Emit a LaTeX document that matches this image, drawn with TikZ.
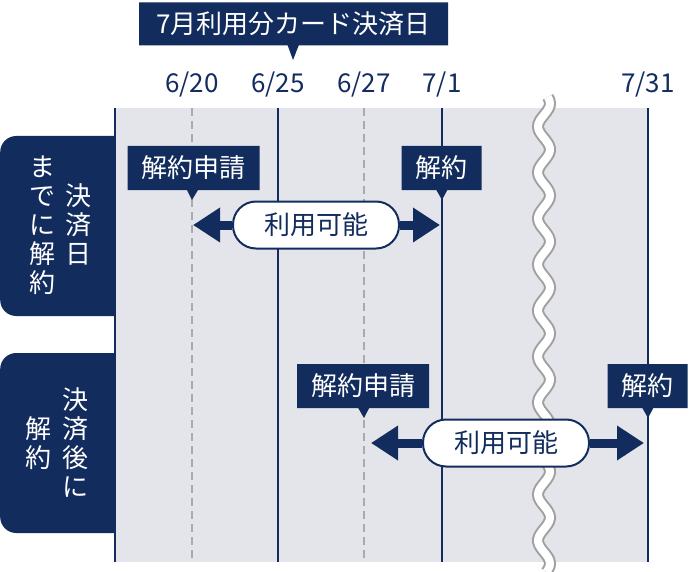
\documentclass[tikz,border=0pt]{standalone}
\usepackage{fontspec}
\newfontfamily\jpfont{Noto Sans CJK JP}
\usetikzlibrary{shapes.callouts, arrows.meta, positioning, calc}
\definecolor{navy}{RGB}{19,44,94}
\definecolor{panel}{RGB}{228,229,235}
\definecolor{dashgray}{RGB}{170,170,170}
\definecolor{wavegray}{RGB}{160,160,160}

\begin{document}
\begin{tikzpicture}[
  x=1pt, y=-1pt,
  font=\jpfont\fontsize{26}{29}\selectfont,
  tab/.style={fill=navy, rounded corners=16pt, minimum width=140pt, minimum height=180pt, anchor=west},
  tabtext/.style={text=white, align=center, inner sep=0pt},
  datelabel/.style={text=navy, anchor=base, inner sep=0pt},
  callbox/.style={rectangle callout, fill=navy, text=white, minimum height=44pt, inner xsep=14pt, callout pointer width=11pt},
  pill/.style={draw=navy, line width=2pt, fill=white, text=navy, rounded corners=23pt, minimum width=166pt, minimum height=47pt},
  daysolid/.style={navy, line width=2.5pt},
  daydash/.style={dashgray, line width=2pt, dash pattern=on 8pt off 5pt},
  bigarrow/.style={navy, line width=9pt, -{Triangle[length=27pt, width=33pt]}}
]
\useasboundingbox (0,0) rectangle (690,572);

\node[tab] (tabA) at (0,226) {};
\node[tab] (tabB) at (0,443) {};
\fill[panel] (115,108) rectangle (648,562);

\foreach \x in {192,364}
  \draw[daydash] (\x,108) -- (\x,562);
\foreach \x in {115,278,442,648}
  \draw[daysolid] (\x,108) -- (\x,562);

\draw[wavegray, line width=12pt] plot[domain=97:572, samples=160, smooth] ({544+6*sin(\x/46*360)}, \x);
\draw[white, line width=8pt] plot[domain=97:572, samples=160, smooth] ({544+6*sin(\x/46*360)}, \x);

\node[datelabel] (d620) at (192,93) {6/20};
\node[datelabel] (d625) at (278,93) {6/25};
\node[datelabel] (d627) at (364,93) {6/27};
\node[datelabel] (d701) at (442,93) {7/1};
\node[datelabel] (d731) at (648,93) {7/31};

\node[callbox, minimum width=309pt, minimum height=43pt, callout absolute pointer={(293,60)}] (title) at (293.5,24) {7月利用分カード決済日};

\node[tabtext] (tabAr) at (78,224) {決\\済\\日};
\node[tabtext] (tabAl) at (42,225) {ま\\で\\に\\解\\約};
\node[tabtext] (tabBr) at (75,443) {決\\済\\後\\に};
\node[tabtext] (tabBl) at (38,443) {解\\約};

\node[callbox, callout absolute pointer={(192,200)}] (reqA) at (193.5,168) {解約申請};
\node[callbox, callout absolute pointer={(442,200)}] (endA) at (441.5,168) {解約};
\node[callbox, callout absolute pointer={(364,418)}] (reqB) at (363,386) {解約申請};
\node[callbox, callout absolute pointer={(648,418)}] (endB) at (647.5,386) {解約};

\coordinate (useAl) at (193,225);
\coordinate (useAr) at (440,225);
\coordinate (useBl) at (371,443);
\coordinate (useBr) at (644,443);
\node[pill] (useA) at (316,225) {利用可能};
\node[pill] (useB) at (506,443) {利用可能};
\draw[bigarrow] (useA.west) -- (useAl);
\draw[bigarrow] (useA.east) -- (useAr);
\draw[bigarrow] (useB.west) -- (useBl);
\draw[bigarrow] (useB.east) -- (useBr);
\end{tikzpicture}
\end{document}
